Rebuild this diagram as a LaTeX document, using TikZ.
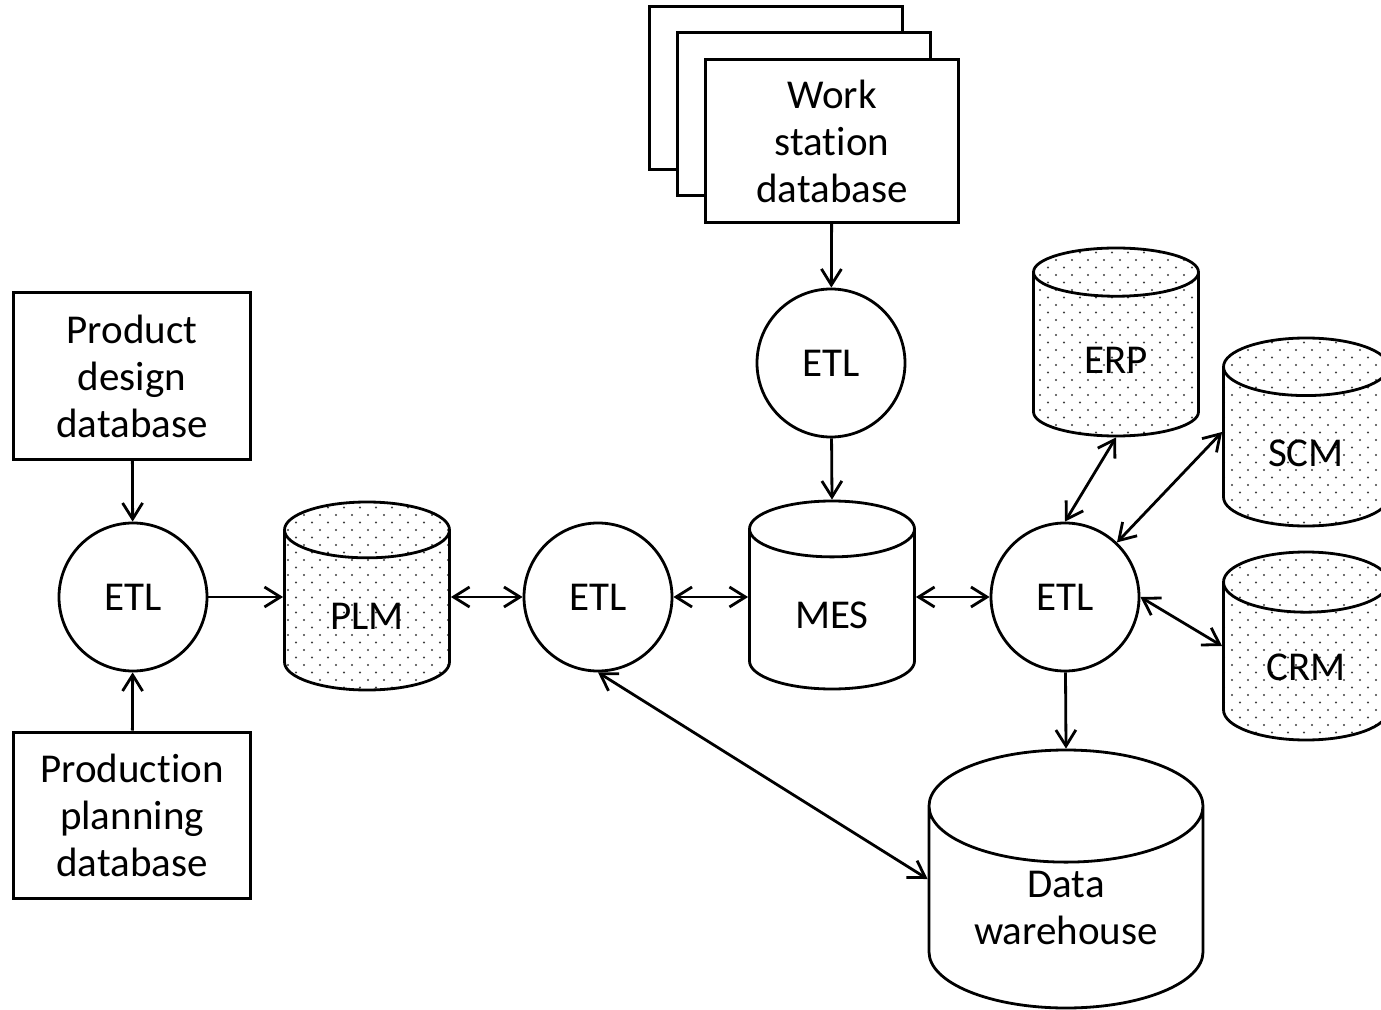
\documentclass[tikz,border=0pt]{standalone}
\usepackage{fontspec}
\setmainfont{Carlito}[Ligatures=NoCommon]
\usetikzlibrary{arrows.meta,shapes.geometric,patterns.meta}

% staggered dots for the external systems
\tikzdeclarepattern{
  name=sparsedots,
  type=uncolored,
  bottom left={(-1pt,-1pt)},
  top right={(7pt,6.5pt)},
  tile size={(8pt,7.5pt)},
  code={
    \pgfpathcircle{\pgfpoint{0pt}{0pt}}{0.55pt}
    \pgfpathcircle{\pgfpoint{4pt}{3.75pt}}{0.55pt}
    \pgfusepath{fill}
  }
}

\begin{document}
\begin{tikzpicture}[x=0.5pt,y=-0.5pt,font=\fontsize{20.5}{23.5}\selectfont,dbbox/.style={rectangle,draw,line width=1.5pt,fill=white,minimum width=118.5pt,minimum height=83pt,inner sep=0pt,align=center},etl/.style={circle,draw,line width=1.4pt,fill=white,minimum size=74pt,inner sep=0pt},store/.style={cylinder,shape border rotate=90,draw,line width=1.4pt,aspect=0.76,minimum width=82.5pt,minimum height=94pt,inner sep=0pt,align=center,anchor=shape center},smallstore/.style={store,text height=19pt,text depth=0pt},dotstore/.style={smallstore,pattern=sparsedots,pattern color=black!75},link/.style={line width=1.4pt,-{Straight Barb[length=8pt,width=10pt]}},duplex/.style={line width=1.4pt,{Straight Barb[length=8pt,width=10pt]}-{Straight Barb[length=8pt,width=10pt]}}]
\fill[white] (0,0) rectangle (1381,1010);
\useasboundingbox (0,0) rectangle (1381,1010);
\coordinate (PD) at (132,376);
\coordinate (PP) at (132,815);
\coordinate (EL) at (133,597);
\coordinate (PLM) at (367,596);
\coordinate (EM) at (598,597);
\coordinate (MES) at (832,595);
\coordinate (ET) at (831,363);
\coordinate (WS) at (832,141);
\coordinate (WS2) at (804,114);
\coordinate (WS3) at (776,88);
\coordinate (ER) at (1065,597);
\coordinate (ERP) at (1116,342);
\coordinate (SCM) at (1306,432);
\coordinate (CRM) at (1306,646);
\coordinate (DW) at (1066,879);
% work station databases, stacked
\node[dbbox,minimum width=126.5pt,minimum height=81.5pt] (ws3) at (WS3) {};
\node[dbbox,minimum width=126.5pt,minimum height=81.5pt] (ws2) at (WS2) {};
\node[dbbox,minimum width=126.5pt,minimum height=81.5pt] (ws) at (WS) {Work\\station\\database};
\node[dbbox] (pd) at (PD) {Product\\design\\database};
\node[dbbox] (pp) at (PP) {Production\\planning\\database};
\node[etl] (etll) at (EL) {ETL};
\node[etl] (etlm) at (EM) {ETL};
\node[etl] (etlt) at (ET) {ETL};
\node[etl] (etlr) at (ER) {ETL};
\node[dotstore] (plm) at (PLM) {PLM};
\node[smallstore] (mes) at (MES) {MES};
\node[dotstore] (erp) at (ERP) {ERP};
\node[dotstore] (scm) at (SCM) {SCM};
\node[dotstore] (crm) at (CRM) {CRM};
\node[store,aspect=0.61,minimum width=137pt,minimum height=129pt] (dw) at (DW) {Data\\warehouse};
\draw[link] (pd) -- (etll);
\draw[link] (pp) -- (etll);
\draw[link] (etll) -- (etll -| plm.west);
\draw[duplex] (etlm -| plm.east) -- (etlm);
\draw[duplex] (etlm) -- (etlm -| mes.west);
\draw[duplex] (etlr -| mes.east) -- (etlr);
\draw[link] (ws) -- (etlt);
\draw[link] (etlt) -- (mes.north);
\draw[duplex] (etlr.north) -- (erp.south);
\draw[duplex] (etlr) -- (scm.shape center -| scm.west);
\draw[duplex] (etlr.east) -- (crm.shape center -| crm.west);
\draw[link] (etlr) -- (dw.north);
\draw[duplex] (etlm.south) -- (dw.shape center -| dw.west);
\end{tikzpicture}
\end{document}
